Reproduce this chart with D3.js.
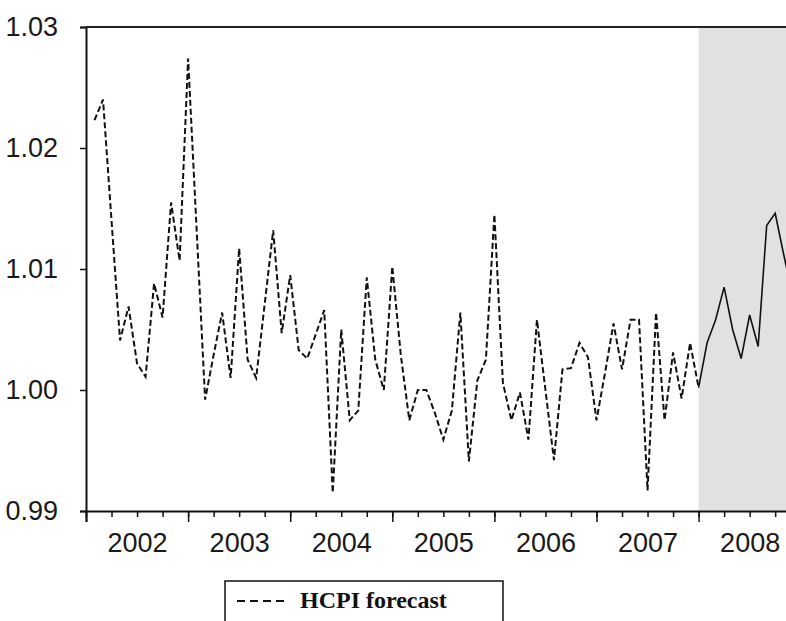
<!DOCTYPE html>
<html>
<head>
<meta charset="utf-8">
<script src="https://cdn.jsdelivr.net/npm/d3@7"></script>
<style>
  body { margin: 0; background: #fff; }
  svg { display: block; }
</style>
</head>
<body>
<div id="chart"></div>
<script>
// monthly HCPI ratio, history runs 2002M02 .. 2008M01
const histStart = [2002, 2];
const histValues = [
  1.0223, 1.0240, 1.0140, 1.0041, 1.0069, 1.0022, 1.0011, 1.0088, 1.0060, 1.0155, 1.0107,
  1.0274, 1.0133, 0.9992, 1.0029, 1.0064, 1.0010, 1.0117, 1.0025, 1.0010, 1.0071, 1.0132, 1.0047,
  1.0095, 1.0033, 1.0026, 1.0046, 1.0066, 0.9915, 1.0050, 0.9975, 0.9983, 1.0093, 1.0025, 1.0000,
  1.0102, 1.0029, 0.9975, 1.0000, 1.0000, 0.9981, 0.9959, 0.9983, 1.0064, 0.9941, 1.0008, 1.0025,
  1.0145, 1.0006, 0.9975, 0.9998, 0.9959, 1.0058, 1.0000, 0.9942, 1.0017, 1.0018, 1.0039, 1.0027,
  0.9975, 1.0014, 1.0055, 1.0017, 1.0058, 1.0058, 0.9917, 1.0064, 0.9975, 1.0031, 0.9993, 1.0039,
  1.0002
];
// forecast runs 2008M01 .. 2008M12
const fcstStart = [2008, 1];
const fcstValues = [1.0002, 1.0039, 1.0058, 1.0085, 1.0050, 1.0026, 1.0062, 1.0036, 1.0136, 1.0146, 1.0112, 1.0080];

const years = [2002, 2003, 2004, 2005, 2006, 2007, 2008];
const yTicks = [0.99, 1.00, 1.01, 1.02, 1.03];
const shadeFrom = 2008;
const legendLabel = "HCPI forecast";

const width = 786, height = 621;
const plotLeft = 86, plotTop = 27, plotBottom = 511;

const svg = d3.select("#chart").append("svg")
    .attr("width", width)
    .attr("height", height);

const x = d3.scaleLinear().domain([2002, 2009]).range([plotLeft, plotLeft + 7 * 102.1]);
const y = d3.scaleLinear().domain([0.99, 1.03]).range([plotBottom, plotTop]);

let toPoints = function (start, vals) {
    return vals.map(function (v, i) {
        const m = start[1] - 1 + i;
        return { t: start[0] + m / 12, v: v };
    });
};

// forecast area shading
svg.append("rect")
    .attr("x", x(shadeFrom))
    .attr("y", plotTop)
    .attr("width", x(2009) - x(shadeFrom))
    .attr("height", plotBottom - plotTop)
    .attr("fill", "#e1e1e1");

// top frame
svg.append("line")
    .attr("x1", plotLeft).attr("x2", x(2009))
    .attr("y1", plotTop).attr("y2", plotTop)
    .attr("stroke", "#222").attr("stroke-width", 2);

const line = d3.line()
    .x(d => x(d.t))
    .y(d => y(d.v));

svg.append("path")
    .datum(toPoints(histStart, histValues))
    .attr("d", line)
    .attr("fill", "none")
    .attr("stroke", "#111")
    .attr("stroke-width", 2)
    .attr("stroke-dasharray", "6,3");

svg.append("path")
    .datum(toPoints(fcstStart, fcstValues))
    .attr("d", line)
    .attr("fill", "none")
    .attr("stroke", "#111")
    .attr("stroke-width", 1.6);

// y axis
const yAxis = svg.append("g")
    .attr("transform", "translate(" + plotLeft + ",0)")
    .call(d3.axisLeft(y).tickValues(yTicks).tickFormat(d3.format(".2f")).tickSize(6).tickPadding(22));
yAxis.select(".domain").attr("stroke", "#111").attr("stroke-width", 2);
yAxis.selectAll(".tick line").attr("stroke", "#111").attr("stroke-width", 1.5);
yAxis.selectAll("text")
    .attr("font-family", "Liberation Sans, Arial, sans-serif")
    .attr("font-size", 27)
    .attr("fill", "#1a1a1a");

// x axis: quarter ticks, year ticks, then labels mid-year
const quarters = d3.range(2002, 2009, 0.25);
const xMinor = svg.append("g")
    .attr("transform", "translate(0," + plotBottom + ")")
    .call(d3.axisBottom(x).tickValues(quarters).tickSize(6).tickFormat(""));
xMinor.select(".domain").remove();
xMinor.selectAll(".tick line").attr("stroke", "#111").attr("stroke-width", 1.5);

const xMajor = svg.append("g")
    .attr("transform", "translate(0," + plotBottom + ")")
    .call(d3.axisBottom(x).tickValues(years).tickSize(11).tickFormat(""));
xMajor.select(".domain").attr("stroke", "#111").attr("stroke-width", 2);
xMajor.selectAll(".tick line").attr("stroke", "#111").attr("stroke-width", 1.5);

const xLabels = svg.append("g")
    .attr("transform", "translate(0," + plotBottom + ")")
    .call(d3.axisBottom(x).tickValues(years.map(d => d + 0.5)).tickSize(0).tickPadding(22)
        .tickFormat(d => String(Math.floor(d))));
xLabels.select(".domain").remove();
xLabels.selectAll("text")
    .attr("font-family", "Liberation Sans, Arial, sans-serif")
    .attr("font-size", 27)
    .attr("fill", "#1a1a1a");

// legend
const lg = svg.append("g").attr("transform", "translate(225,581)");
lg.append("rect")
    .attr("x", 0).attr("y", 0)
    .attr("width", 278).attr("height", 80)
    .attr("fill", "#fff")
    .attr("stroke", "#111")
    .attr("stroke-width", 1.5);
lg.append("line")
    .attr("x1", 12).attr("x2", 60)
    .attr("y1", 20).attr("y2", 20)
    .attr("stroke", "#111")
    .attr("stroke-width", 2)
    .attr("stroke-dasharray", "8,5");
lg.append("text")
    .attr("x", 75).attr("y", 27)
    .attr("font-family", "Liberation Serif, Times New Roman, serif")
    .attr("font-weight", "bold")
    .attr("font-size", 24)
    .attr("fill", "#111")
    .text(legendLabel);
</script>
</body>
</html>
